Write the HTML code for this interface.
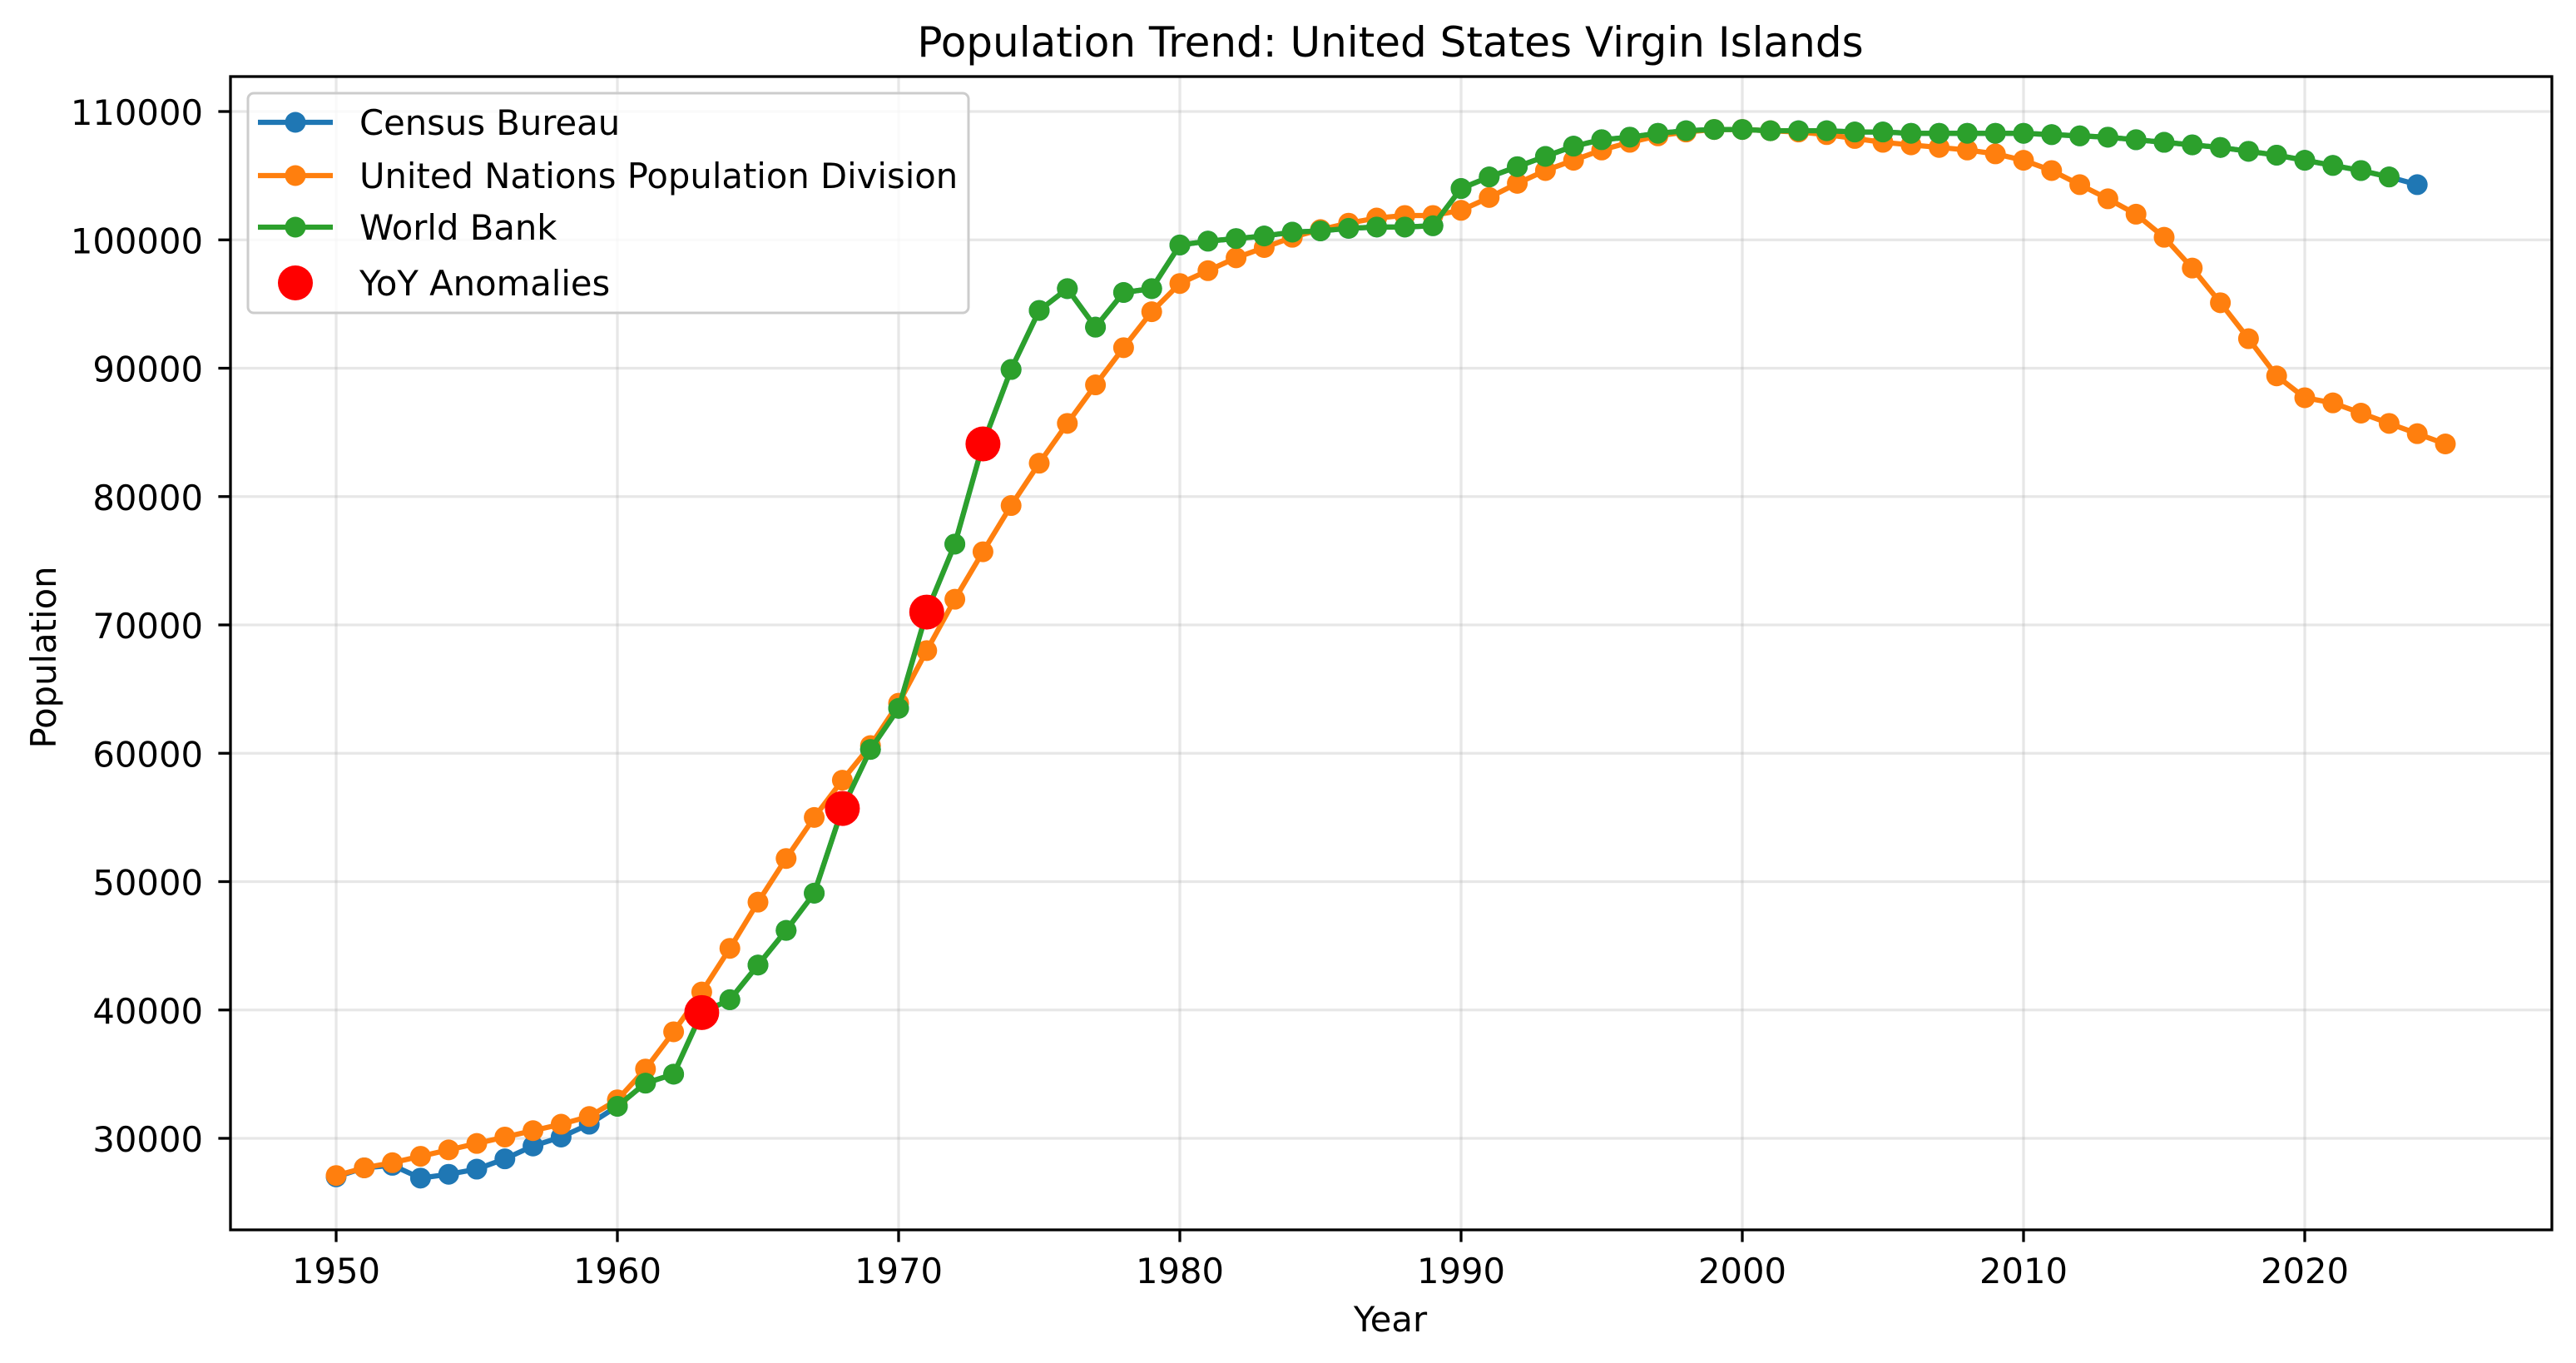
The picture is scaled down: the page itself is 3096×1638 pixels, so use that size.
<!DOCTYPE html>
<html><head><meta charset="utf-8"><style>
html,body{margin:0;padding:0;background:#fff;}
svg{display:block;font-family:"DejaVu Sans","Liberation Sans",sans-serif;}
</style></head><body>
<svg id="chart" width="3096" height="1638" viewBox="0 0 3096 1638" xmlns="http://www.w3.org/2000/svg">
<rect width="3096" height="1638" fill="#fff"/>
<text x="1671" y="68" font-size="50" text-anchor="middle">Population Trend: United States Virgin Islands</text>
<g id="grid"></g>
<g id="series"></g>
<rect x="277" y="92" width="2790" height="1386" fill="none" stroke="#000" stroke-width="3.3"/>
<g id="axes"></g>
<text x="1671" y="1600" font-size="41.7" text-anchor="middle">Year</text>
<text x="0" y="0" font-size="41.7" text-anchor="middle" transform="translate(67,790) rotate(-90)">Population</text>
<g>
<rect x="298" y="112" width="866" height="264" rx="7" fill="#fff" fill-opacity="0.8" stroke="#cccccc" stroke-width="3"/>
<g><line x1="310" y1="147" x2="400" y2="147" stroke="#1f77b4" stroke-width="6.25"/><circle cx="355" cy="147" r="12.5" fill="#1f77b4"/><text x="432" y="162" font-size="41.7">Census Bureau</text></g>
<g><line x1="310" y1="211" x2="400" y2="211" stroke="#ff7f0e" stroke-width="6.25"/><circle cx="355" cy="211" r="12.5" fill="#ff7f0e"/><text x="432" y="226" font-size="41.7">United Nations Population Division</text></g>
<g><line x1="310" y1="273" x2="400" y2="273" stroke="#2ca02c" stroke-width="6.25"/><circle cx="355" cy="273" r="12.5" fill="#2ca02c"/><text x="432" y="288" font-size="41.7">World Bank</text></g>
<g><circle cx="355" cy="340" r="21" fill="#ff0000"/><text x="432" y="355" font-size="41.7">YoY Anomalies</text></g>
</g>
</svg>
<script>
const censusYears = [1950,1951,1952,1953,1954,1955,1956,1957,1958,1959,1960,1961,1962,1963,1964,1965,1966,1967,1968,1969,1970,1971,1972,1973,1974,1975,1976,1977,1978,1979,1980,1981,1982,1983,1984,1985,1986,1987,1988,1989,1990,1991,1992,1993,1994,1995,1996,1997,1998,1999,2000,2001,2002,2003,2004,2005,2006,2007,2008,2009,2010,2011,2012,2013,2014,2015,2016,2017,2018,2019,2020,2021,2022,2023,2024];
const censusValues = [27000,27700,27900,26900,27200,27600,28400,29400,30100,31100,32500,34300,35000,39800,40800,43500,46200,49100,55700,60300,63500,71000,76300,84100,89900,94500,96200,93200,95900,96200,99600,99900,100100,100300,100600,100700,100900,101000,101000,101100,104000,104900,105700,106500,107300,107800,108000,108300,108500,108600,108600,108500,108500,108500,108400,108400,108300,108300,108300,108300,108300,108200,108100,108000,107800,107600,107400,107200,106900,106600,106200,105800,105400,104900,104300];
const unYears = [1950,1951,1952,1953,1954,1955,1956,1957,1958,1959,1960,1961,1962,1963,1964,1965,1966,1967,1968,1969,1970,1971,1972,1973,1974,1975,1976,1977,1978,1979,1980,1981,1982,1983,1984,1985,1986,1987,1988,1989,1990,1991,1992,1993,1994,1995,1996,1997,1998,1999,2000,2001,2002,2003,2004,2005,2006,2007,2008,2009,2010,2011,2012,2013,2014,2015,2016,2017,2018,2019,2020,2021,2022,2023,2024,2025];
const unValues = [27100,27700,28100,28600,29100,29600,30100,30600,31100,31700,33000,35400,38300,41400,44800,48400,51800,55000,57900,60600,63900,68000,72000,75700,79300,82600,85700,88700,91600,94400,96600,97600,98600,99400,100200,100800,101300,101700,101900,101900,102300,103300,104400,105400,106200,107000,107600,108100,108400,108600,108600,108500,108400,108200,107900,107600,107400,107200,107000,106700,106200,105400,104300,103200,102000,100200,97800,95100,92300,89400,87700,87300,86500,85700,84900,84100];
const wbYears = [1960,1961,1962,1963,1964,1965,1966,1967,1968,1969,1970,1971,1972,1973,1974,1975,1976,1977,1978,1979,1980,1981,1982,1983,1984,1985,1986,1987,1988,1989,1990,1991,1992,1993,1994,1995,1996,1997,1998,1999,2000,2001,2002,2003,2004,2005,2006,2007,2008,2009,2010,2011,2012,2013,2014,2015,2016,2017,2018,2019,2020,2021,2022,2023];
const wbValues = [32500,34300,35000,39800,40800,43500,46200,49100,55700,60300,63500,71000,76300,84100,89900,94500,96200,93200,95900,96200,99600,99900,100100,100300,100600,100700,100900,101000,101000,101100,104000,104900,105700,106500,107300,107800,108000,108300,108500,108600,108600,108500,108500,108500,108400,108400,108300,108300,108300,108300,108300,108200,108100,108000,107800,107600,107400,107200,106900,106600,106200,105800,105400,104900];
const anomalyYears = [1963,1968,1971,1973];
const anomalyValues = [39800,55700,71000,84100];
const xTicks = [1950,1960,1970,1980,1990,2000,2010,2020];
const yTicks = [30000,40000,50000,60000,70000,80000,90000,100000,110000];

const NS = "http://www.w3.org/2000/svg";
const X0 = 277, X1 = 3067, Y0 = 92, Y1 = 1478;
function xs(v){ return 404 + (v - 1950) * 33.8; }
function ys(v){ return 134 + (110000 - v) * 0.015425; }
function mk(tag, attrs, parent){ const e = document.createElementNS(NS, tag); for (const k in attrs) e.setAttribute(k, attrs[k]); parent.appendChild(e); return e; }

const grid = document.getElementById('grid'), axes = document.getElementById('axes'), series = document.getElementById('series');
xTicks.forEach(t => {
  const x = xs(t);
  const g = mk('line', {x1:x, x2:x, y1:Y0, y2:Y1, stroke:'#b0b0b0', 'stroke-opacity':0.3, 'stroke-width':3.3}, grid);
  
  
  mk('line', {x1:x, x2:x, y1:Y1, y2:Y1+14.6, stroke:'#000', 'stroke-width':3.3}, axes);
  const tx = mk('text', {x:x, y:1542, 'font-size':41.7, 'text-anchor':'middle'}, axes);
  tx.textContent = t;
  
  
});
yTicks.forEach(t => {
  const y = ys(t);
  const g = mk('line', {x1:X0, x2:X1, y1:y, y2:y, stroke:'#b0b0b0', 'stroke-opacity':0.3, 'stroke-width':3.3}, grid);
  
  
  mk('line', {x1:X0-14.6, x2:X0, y1:y, y2:y, stroke:'#000', 'stroke-width':3.3}, axes);
  const tx = mk('text', {x:X0-33, y:y+16, 'font-size':41.7, 'text-anchor':'end'}, axes);
  tx.textContent = t;
  
  
});
function drawSeries(years, vals, color, name){
  const g = mk('g', {}, series);
  
  
  const pts = years.map((yr, i) => xs(yr) + ',' + ys(vals[i])).join(' ');
  mk('polyline', {points:pts, fill:'none', stroke:color, 'stroke-width':6.25, 'stroke-linejoin':'round'}, g);
  years.forEach((yr, i) => {
    const c = mk('circle', {cx:xs(yr), cy:ys(vals[i]), r:12.5, fill:color}, g);
    
    
  });
}
drawSeries(censusYears, censusValues, '#1f77b4', 'census-series');
drawSeries(unYears, unValues, '#ff7f0e', 'un-series');
drawSeries(wbYears, wbValues, '#2ca02c', 'world-bank-series');
anomalyYears.forEach((yr, i) => {
  const c = mk('circle', {cx:xs(yr), cy:ys(anomalyValues[i]), r:21, fill:'#ff0000'}, series);
  
  
});
</script>
</body></html>
